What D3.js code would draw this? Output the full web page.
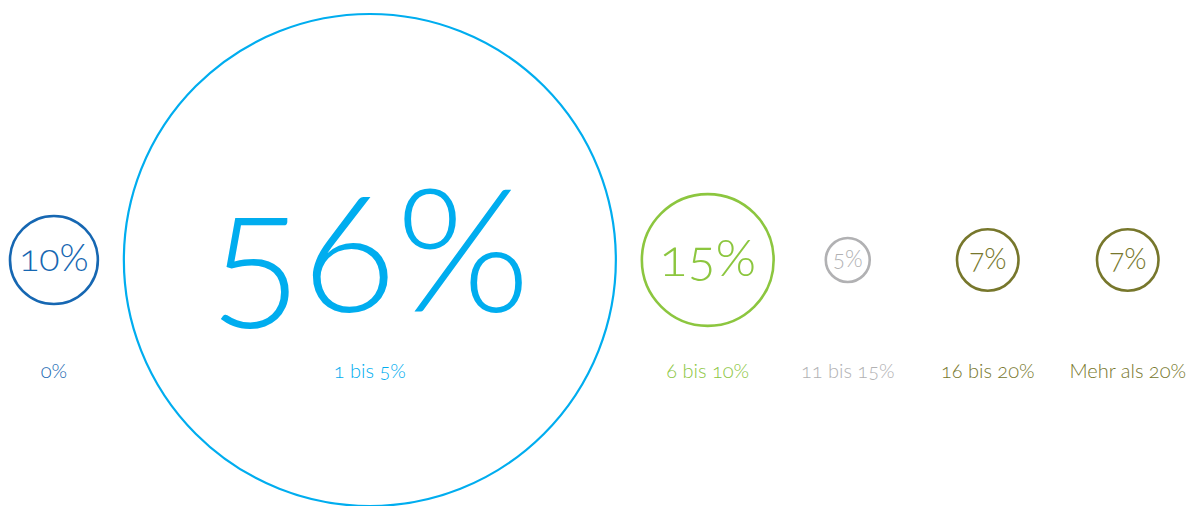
<!DOCTYPE html>
<html>
<head>
<meta charset="utf-8">
<script src="https://cdn.jsdelivr.net/npm/d3@7"></script>
<style>
  html, body { margin: 0; padding: 0; background: #ffffff; }
  svg { display: block; }
  text { font-family: Lato, "Open Sans", sans-serif; font-variant-numeric: oldstyle-nums; }
</style>
</head>
<body>
<svg id="chart" width="1193" height="506"></svg>
<script>
// Share of respondents per range
const categories = ["0%", "1 bis 5%", "6 bis 10%", "11 bis 15%", "16 bis 20%", "Mehr als 20%"];
const values = [10, 56, 15, 5, 7, 7];
const colors = ["#1667b2", "#00adef", "#8cc63f", "#b1b1b3", "#77772c", "#77772c"];

const width = 1193, height = 506;
const cy = 260;          // common centre line of all circles
const labelY = 378;      // baseline of the category labels
const gap = 26;          // space between neighbouring circles
const minStep = 140;     // minimum distance between centres
const leftMargin = 10;

const svg = d3.select("#chart");

// Radius grows linearly with the share
const r = d3.scaleLinear().domain([0, d3.max(values)]).range([0, 246]);
const fontSize = v => 8 + r(v) * 0.67;

const data = categories.map((c, i) => ({ cat: c, value: values[i], color: colors[i] }));

// Place circles side by side, left to right
let x = leftMargin + r(data[0].value);
data.forEach((d, i) => {
  if (i > 0) {
    const prev = data[i - 1];
    x += Math.max(r(prev.value) + r(d.value) + gap, minStep);
  }
  d.cx = x;
});

const g = svg.selectAll("g.item").data(data).join("g").attr("class", "item");

g.append("circle")
  .attr("cx", d => d.cx)
  .attr("cy", cy)
  .attr("r", d => r(d.value))
  .attr("fill", "none")
  .attr("stroke", d => d.color)
  .attr("stroke-width", d => d.value > 40 ? 2.2 : 2.6);

// Value inside each circle, baseline slightly below the centre line
g.append("text")
  .attr("x", d => d.cx)
  .attr("y", d => cy + fontSize(d.value) * 0.3)
  .attr("text-anchor", "middle")
  .attr("fill", d => d.color)
  .style("font-weight", 300)
  .style("font-size", d => fontSize(d.value) + "px")
  .text(d => d.value + "%");

g.append("text")
  .attr("x", d => d.cx)
  .attr("y", labelY)
  .attr("text-anchor", "middle")
  .attr("fill", d => d.color)
  .style("font-weight", 300)
  .style("font-size", "20px")
  .text(d => d.cat);
</script>
</body>
</html>
